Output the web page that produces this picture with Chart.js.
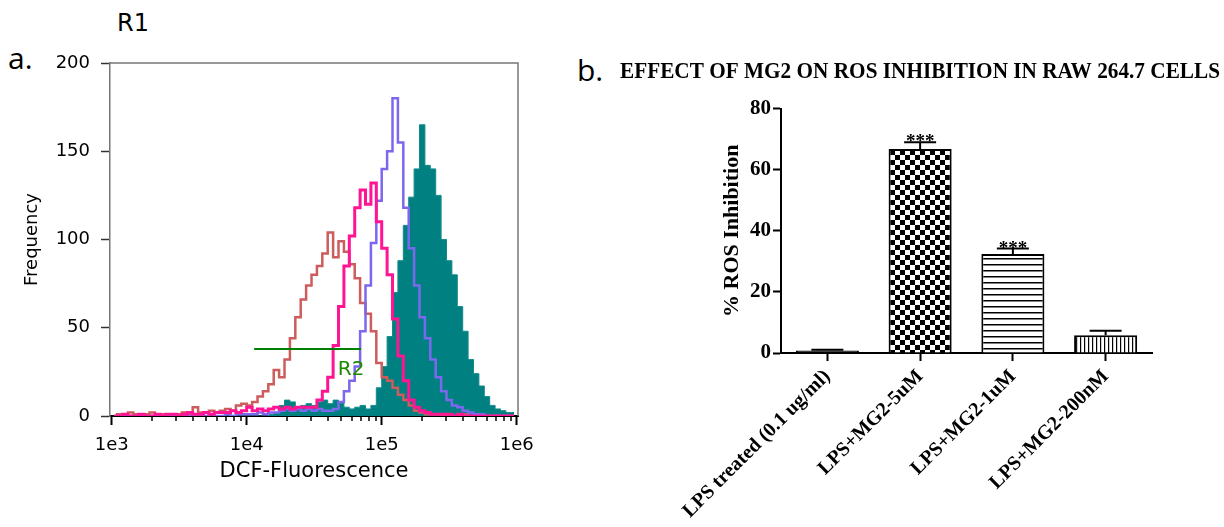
<!DOCTYPE html>
<html>
<head>
<meta charset="utf-8">
<script src="https://cdn.jsdelivr.net/npm/chart.js@4.4.1/dist/chart.umd.min.js"></script>
<style>
  html, body { margin: 0; padding: 0; background: #fff; }
  #wrap { position: relative; width: 1224px; height: 527px; overflow: hidden; background: #fff; }
  canvas { position: absolute; top: 0; }
  #hist { left: 0; }
  #bars { left: 560px; }
  .tag { position: absolute; color: #000; white-space: nowrap; }
</style>
</head>
<body>
<div id="wrap">
  <div class="tag" style="left:117px;top:11px;font:24px/24px 'DejaVu Sans',sans-serif;">R1</div>
  <div class="tag" style="left:8px;top:43px;font:30px/30px 'Open Sans',sans-serif;">a.</div>
  <div class="tag" style="left:577px;top:55px;font:30px/30px 'Open Sans',sans-serif;">b.</div>
  <canvas id="hist" width="540" height="527"></canvas>
  <canvas id="bars" width="664" height="527"></canvas>
</div>
<script>
// ---- panel a: DCF histogram (bins of 0.04 decade, centres from 10^3.02) ----
const histBinStart = 3.02;
const histBinStep = 0.04;

const tealCounts = [
  0, 0, 0, 0, 0, 0, 0, 0, 0, 0,
  0, 0, 0, 0, 0, 0, 0, 0, 0, 0,
  0, 0, 0, 0, 0, 0, 0, 0, 0, 1,
  2, 6, 9, 8, 5, 6, 7, 6, 8, 9,
  7, 9, 8, 5, 4, 5, 6, 4, 6, 16,
  28, 45, 70, 88, 108, 124, 140, 165, 142, 140,
  125, 100, 88, 80, 62, 48, 32, 24, 17, 11,
  6, 4, 3, 2, 2
];
const purpleCounts = [
  0, 0, 0, 0, 0, 0, 0, 0, 0, 0,
  0, 0, 0, 0, 0, 0, 0, 0, 1, 0,
  0, 1, 0, 1, 1, 1, 1, 2, 1, 2,
  2, 3, 4, 3, 4, 3, 4, 3, 4, 3,
  3, 4, 8, 14, 20, 28, 48, 74, 98, 122,
  140, 150, 180, 155, 118, 95, 74, 56, 44, 32,
  22, 14, 9, 6, 5, 3, 2, 1, 1, 0,
  0, 0, 0, 0, 0
];
const pinkCounts = [
  0, 0, 1, 0, 0, 1, 0, 0, 1, 0,
  1, 1, 0, 1, 2, 1, 1, 2, 1, 2,
  2, 2, 3, 2, 3, 5, 3, 4, 3, 4,
  5, 4, 5, 4, 5, 5, 5, 5, 9, 14,
  22, 40, 62, 85, 102, 118, 128, 120, 132, 110,
  95, 80, 55, 34, 20, 9, 5, 3, 2, 1,
  1, 1, 1, 0, 1, 0, 0, 0, 0, 0,
  0, 0, 0, 0, 0
];
const redCounts = [
  0, 1, 0, 2, 1, 0, 1, 2, 1, 1,
  0, 1, 1, 2, 1, 5, 2, 2, 3, 2,
  3, 4, 3, 6, 7, 6, 8, 11, 14, 18,
  26, 22, 32, 44, 56, 66, 74, 80, 85, 92,
  104, 90, 99, 93, 86, 78, 64, 58, 48, 30,
  22, 20, 16, 12, 9, 6, 3, 2, 1, 1,
  1, 0, 1, 0, 0, 1, 0, 0, 0, 0,
  0, 0, 0, 0, 0
];

const xMajorTicks = [1e3, 1e4, 1e5, 1e6];
const xMajorLabels = ["1e3", "1e4", "1e5", "1e6"];
const xMinorSteps = [2, 3, 4, 5, 6, 7, 8, 9];
const freqTicks = [0, 50, 100, 150, 200];

// R2 gate
const gateRange = [11350, 70200];
const gateLevel = 38;
const gateLabel = "R2";
const gateLabelAt = [59300, 26];

// ---- panel b: ROS inhibition ----
const rosTitle = "EFFECT OF MG2 ON ROS INHIBITION IN RAW 264.7 CELLS";
const rosGroups = ["LPS treated (0.1 ug/ml)", "LPS+MG2-5uM", "LPS+MG2-1uM", "LPS+MG2-200nM"];
const rosMean = [0.8, 66.8, 32.4, 5.8];
const rosErr = [0.3, 2.2, 1.8, 1.5];
const rosSig = ["", "***", "***", ""];
const rosTicks = [0, 20, 40, 60, 80];

const sansFont = "'DejaVu Sans', sans-serif";
const serifFont = "'Liberation Serif', 'Times New Roman', serif";

function toPoints(counts) {
  return counts.map((c, i) => ({ x: Math.pow(10, histBinStart + histBinStep * i), y: c }));
}

function isMajorX(v) {
  return xMajorTicks.some((m) => Math.abs(m - v) / m < 1e-6);
}

const histDecor = {
  id: "histDecor",
  afterDraw(chart) {
    const { ctx, chartArea, scales } = chart;
    const x = scales.x;
    const y = scales.y;
    ctx.save();
    // top and right of the box
    ctx.strokeStyle = "#777";
    ctx.lineWidth = 1.5;
    ctx.beginPath();
    ctx.moveTo(chartArea.left, chartArea.top);
    ctx.lineTo(chartArea.right, chartArea.top);
    ctx.lineTo(chartArea.right, chartArea.bottom);
    ctx.stroke();
    // short minor ticks
    ctx.strokeStyle = "#000";
    ctx.lineWidth = 1.5;
    x.ticks.forEach((t) => {
      if (isMajorX(t.value)) return;
      const px = Math.round(x.getPixelForValue(t.value));
      ctx.beginPath();
      ctx.moveTo(px, chartArea.bottom);
      ctx.lineTo(px, chartArea.bottom + 5);
      ctx.stroke();
    });
    // gate
    const gy = y.getPixelForValue(gateLevel);
    ctx.strokeStyle = "#008000";
    ctx.lineWidth = 2;
    ctx.beginPath();
    ctx.moveTo(x.getPixelForValue(gateRange[0]), gy);
    ctx.lineTo(x.getPixelForValue(gateRange[1]), gy);
    ctx.stroke();
    ctx.fillStyle = "#1e8a00";
    ctx.font = "20px " + sansFont;
    ctx.textAlign = "center";
    ctx.textBaseline = "middle";
    ctx.fillText(gateLabel, x.getPixelForValue(gateLabelAt[0]), y.getPixelForValue(gateLabelAt[1]));
    ctx.restore();
  }
};

new Chart(document.getElementById("hist"), {
  type: "line",
  data: {
    datasets: [
      { data: toPoints(pinkCounts), borderColor: "#ff1493", borderWidth: 3, stepped: "middle", pointRadius: 0, fill: false },
      { data: toPoints(purpleCounts), borderColor: "#7b68ee", borderWidth: 2.5, stepped: "middle", pointRadius: 0, fill: false },
      { data: toPoints(redCounts), borderColor: "#cd5c5c", borderWidth: 2.5, stepped: "middle", pointRadius: 0, fill: false },
      { data: toPoints(tealCounts), borderColor: "#138a8a", backgroundColor: "#008080", borderWidth: 1, stepped: "middle", pointRadius: 0, fill: "origin" }
    ]
  },
  options: {
    responsive: false,
    animation: false,
    layout: { padding: { top: 63, right: 22, left: 0, bottom: 0 } },
    plugins: { legend: { display: false }, tooltip: { enabled: false } },
    scales: {
      x: {
        type: "logarithmic",
        min: 971,
        max: 1.0224e6,
        bounds: "data",
        afterBuildTicks: (scale) => {
          const list = [];
          xMajorTicks.forEach((m, i) => {
            list.push({ value: m });
            if (i < xMajorTicks.length - 1) xMinorSteps.forEach((k) => list.push({ value: m * k }));
          });
          scale.ticks = list;
        },
        afterFit: (scale) => {
          scale.height = 111;
          scale.paddingLeft = 0;
          scale.paddingRight = 0;
        },
        ticks: {
          autoSkip: false,
          maxRotation: 0,
          padding: 10,
          color: "#000",
          font: { family: sansFont, size: 18 },
          callback: (v) => {
            const i = xMajorTicks.findIndex((m) => Math.abs(m - v) / m < 1e-6);
            return i >= 0 ? xMajorLabels[i] : "";
          }
        },
        grid: {
          drawOnChartArea: false,
          tickLength: 9,
          tickWidth: 2,
          tickColor: (ctx) => (ctx.tick && isMajorX(ctx.tick.value) ? "#000" : "rgba(0,0,0,0)")
        },
        border: { color: "#000", width: 2 },
        title: {
          display: true,
          text: "DCF-Fluorescence",
          color: "#000",
          font: { family: sansFont, size: 21 },
          padding: { top: 0, bottom: 43 }
        }
      },
      y: {
        min: 0,
        max: 200,
        afterBuildTicks: (scale) => {
          scale.ticks = freqTicks.map((v) => ({ value: v }));
        },
        afterFit: (scale) => {
          scale.width = 110;
        },
        ticks: { padding: 11, color: "#000", font: { family: sansFont, size: 18 } },
        grid: { drawOnChartArea: false, tickLength: 9, tickWidth: 1.5, tickColor: "#333" },
        border: { color: "#777", width: 1.5 },
        title: {
          display: true,
          text: "Frequency",
          color: "#000",
          font: { family: sansFont, size: 18 },
          padding: { top: 22, bottom: 0 }
        }
      }
    }
  },
  plugins: [histDecor]
});

// ---- bar patterns ----
const barCtx = document.getElementById("bars").getContext("2d");

function makePattern(kind) {
  const tile = document.createElement("canvas");
  const g = tile.getContext("2d");
  if (kind === "checker") {
    tile.width = 10; tile.height = 10;
    g.fillStyle = "#fff"; g.fillRect(0, 0, 10, 10);
    g.fillStyle = "#000"; g.fillRect(0, 0, 5, 5); g.fillRect(5, 5, 5, 5);
  } else if (kind === "hline") {
    tile.width = 6; tile.height = 6;
    g.fillStyle = "#fff"; g.fillRect(0, 0, 6, 6);
    g.fillStyle = "#000"; g.fillRect(0, 0, 6, 1.5);
  } else {
    tile.width = 4; tile.height = 4;
    g.fillStyle = "#fff"; g.fillRect(0, 0, 4, 4);
    g.fillStyle = "#000"; g.fillRect(0, 0, 1.2, 4);
  }
  return barCtx.createPattern(tile, "repeat");
}

const rosFills = ["#000", makePattern("checker"), makePattern("hline"), makePattern("vline")];

const errorBars = {
  id: "errorBars",
  afterDatasetsDraw(chart) {
    const { ctx, scales } = chart;
    const meta = chart.getDatasetMeta(0);
    ctx.save();
    ctx.strokeStyle = "#000";
    ctx.fillStyle = "#000";
    ctx.lineWidth = 2;
    meta.data.forEach((bar, i) => {
      const top = scales.y.getPixelForValue(rosMean[i] + rosErr[i]);
      ctx.beginPath();
      ctx.moveTo(bar.x, bar.y);
      ctx.lineTo(bar.x, top);
      ctx.moveTo(bar.x - 16, top);
      ctx.lineTo(bar.x + 16, top);
      ctx.stroke();
      if (rosSig[i]) {
        ctx.font = "bold 19px " + serifFont;
        ctx.textAlign = "center";
        ctx.textBaseline = "alphabetic";
        ctx.fillText(rosSig[i], bar.x, top + 5);
      }
    });
    ctx.restore();
  }
};

new Chart(barCtx, {
  type: "bar",
  data: {
    labels: rosGroups,
    datasets: [
      {
        data: rosMean,
        backgroundColor: rosFills,
        borderColor: "#000",
        borderWidth: 2,
        barPercentage: 0.68,
        categoryPercentage: 1
      }
    ]
  },
  options: {
    responsive: false,
    animation: false,
    // title box spans padding.left..width-padding.right, so keep it wide and
    // use an empty right-hand axis to push the plot's right edge in
    layout: { padding: { left: 60, right: 4, top: 0, bottom: 0 } },
    plugins: {
      legend: { display: false },
      tooltip: { enabled: false },
      title: {
        display: true,
        text: rosTitle,
        color: "#000",
        font: { family: serifFont, size: 23, weight: "bold" },
        padding: { top: 58, bottom: 23 }
      }
    },
    scales: {
      x: {
        afterFit: (scale) => {
          scale.height = 174;
          scale.paddingLeft = 0;
          scale.paddingRight = 0;
        },
        ticks: {
          autoSkip: false,
          minRotation: 45,
          maxRotation: 45,
          padding: 4,
          color: "#000",
          font: { family: serifFont, size: 20, weight: "bold" }
        },
        grid: { drawOnChartArea: false, offset: false, tickLength: 8, tickWidth: 2, tickColor: "#000" },
        border: { color: "#000", width: 2 }
      },
      y: {
        min: 0,
        max: 80,
        afterBuildTicks: (scale) => {
          scale.ticks = rosTicks.map((v) => ({ value: v }));
        },
        afterFit: (scale) => {
          scale.width = 161;
        },
        ticks: { padding: 2, color: "#000", font: { family: serifFont, size: 21, weight: "bold" } },
        grid: { drawOnChartArea: false, tickLength: 8, tickWidth: 2, tickColor: "#000" },
        border: { color: "#000", width: 2 },
        title: {
          display: true,
          text: "% ROS Inhibition",
          color: "#000",
          font: { family: serifFont, size: 22, weight: "bold" },
          padding: { top: 99, bottom: 0 }
        }
      },
      yRight: {
        position: "right",
        afterFit: (scale) => {
          scale.width = 68;
        },
        ticks: { display: false },
        grid: { display: false },
        border: { display: false }
      }
    }
  },
  plugins: [errorBars]
});
</script>
</body>
</html>
